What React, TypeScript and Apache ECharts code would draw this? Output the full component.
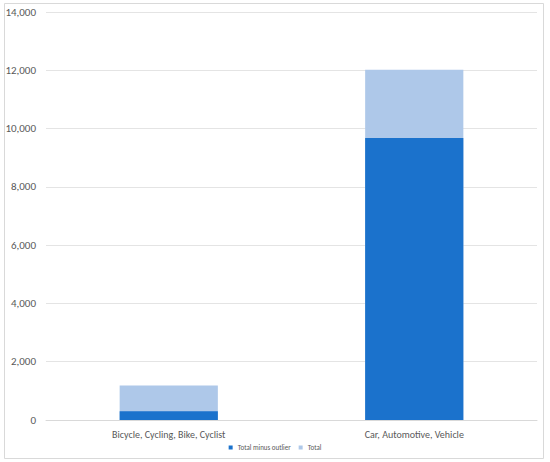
import React, { useEffect, useRef } from "react";
import * as echarts from "echarts";

const categories = ["Bicycle, Cycling, Bike, Cyclist", "Car, Automotive, Vehicle"];
const totalMinusOutlier = [300, 9680];
const total = [1180, 12020];

export default function App() {
  const ref = useRef<HTMLDivElement>(null);
  useEffect(() => {
    const chart = echarts.init(ref.current!, null, { renderer: "svg" });
    const font = "Carlito, 'Liberation Sans', sans-serif";
    chart.setOption({
      animation: false,
      backgroundColor: "#ffffff",
      graphic: [
        {
          type: "rect",
          shape: { x: 4.5, y: 3.5, width: 539, height: 455 },
          style: { fill: "none", stroke: "#d9d9d9", lineWidth: 1 },
          silent: true,
        },
      ],
      grid: { left: 46, right: 13, top: 12, bottom: 42, containLabel: false },
      legend: {
        data: ["Total minus outlier", "Total"],
        bottom: 6,
        left: "center",
        itemWidth: 4,
        itemHeight: 4,
        itemGap: 8,
        icon: "rect",
        textStyle: { fontSize: 7, color: "#595959", fontFamily: font },
      },
      xAxis: {
        type: "category",
        data: categories,
        axisLine: { lineStyle: { color: "#d9d9d9" } },
        axisTick: { show: false },
        axisLabel: { fontSize: 10, color: "#595959", fontFamily: font, margin: 9 },
      },
      yAxis: {
        type: "value",
        min: 0,
        max: 14000,
        interval: 2000,
        axisLine: { show: false },
        axisTick: { show: false },
        splitLine: { lineStyle: { color: "#e4e4e4" } },
        axisLabel: {
          fontSize: 11,
          color: "#595959",
          fontFamily: font,
          margin: 10,
          formatter: (v: number) => v.toLocaleString("en-US"),
        },
      },
      series: [
        {
          name: "Total",
          type: "bar",
          data: total,
          barWidth: "40%",
          barGap: "-100%",
          itemStyle: { color: "#aec8e9" },
        },
        {
          name: "Total minus outlier",
          type: "bar",
          data: totalMinusOutlier,
          barWidth: "40%",
          barGap: "-100%",
          itemStyle: { color: "#1b72cc" },
        },
      ],
    });
    return () => chart.dispose();
  }, []);
  return (
    <div
      ref={ref}
      style={{ position: "fixed", left: 0, top: 0, width: 550, height: 462 }}
    />
  );
}
